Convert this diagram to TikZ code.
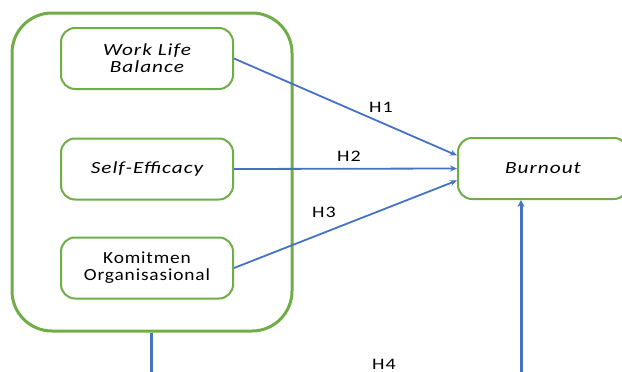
\documentclass[tikz,border=0pt]{standalone}
\usepackage{fontspec}
\setmainfont{Carlito}[FakeStretch=1.25,LetterSpace=6]
\newfontfamily\narrowfont{Carlito}[FakeStretch=1.14,LetterSpace=5]
\usetikzlibrary{arrows.meta,calc}
\definecolor{grn}{RGB}{112,173,71}
\definecolor{blu}{RGB}{68,114,196}
\begin{document}
\begin{tikzpicture}[x=1pt,y=-1pt,
  inbox/.style={draw=grn,line width=2pt,rounded corners=14pt,minimum width=172pt,minimum height=61pt,align=center,font=\fontsize{17}{17}\selectfont,inner sep=0pt},
  arr/.style={draw=blu,line width=1.8pt,-{Stealth[length=7pt,width=6pt]}},
  hlab/.style={font=\fontsize{16}{16}\selectfont,inner sep=0pt}]
\useasboundingbox (0,0) rectangle (622,372);
\node[draw=grn,line width=3pt,rounded corners=40pt,minimum width=280pt,minimum height=318pt,inner sep=0pt] (outer) at (152,172) {};
\node[inbox] (wlb) at (147,58.5) {\itshape Work Life\\\itshape Balance};
\node[inbox] (se) at (147,169) {\itshape Self-Efficacy};
\node[inbox,font=\fontsize{17}{17}\narrowfont] (ko) at (147,268) {Komitmen\\Organisasional};
\node[inbox,minimum width=170pt] (bo) at (543,168.5) {\itshape Burnout};
\draw[arr] (wlb.east) -- ($(bo.west)+(0,-13)$);
\draw[arr] (se.east) -- (bo.west);
\draw[arr] (ko.east) -- ($(bo.west)+(0,12)$);
\coordinate (d1) at (151,372);
\coordinate (d2) at (521,372);
\draw[blu,line width=3pt] (outer.south -| d1) -- (d1);
\draw[blu,line width=3pt,-{Stealth[length=7pt,width=7pt]}] (d2) -- (d2 |- bo.south);
\node[hlab] (h1) at (381,107) {H1};
\node[hlab] (h2) at (349,156) {H2};
\node[hlab] (h3) at (324,212) {H3};
\node[hlab] (h4) at (384,364) {H4};
\end{tikzpicture}
\end{document}
